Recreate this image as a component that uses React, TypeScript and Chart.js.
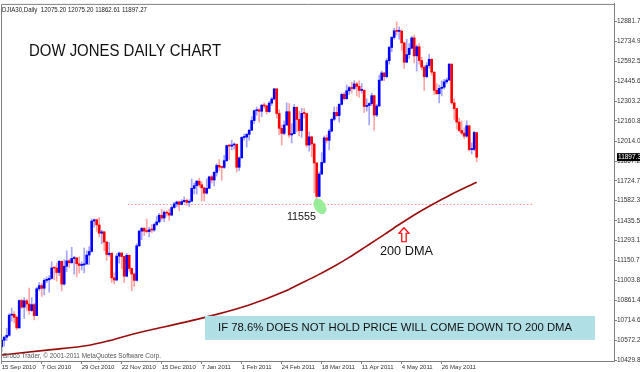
import React, { useEffect, useRef } from "react";
import { Chart, registerables } from "chart.js";

Chart.register(...registerables);

// ---- Daily OHLC (bar index 0 = 15 Sep 2010 ... 190 = 15 Jun 2011) ----
const opens = [
  10526, 10573, 10595, 10608, 10754, 10761, 10739, 10662, 10860, 10812,
  10858, 10835, 10788, 10830, 10751, 10945, 10968, 10949, 11006, 11010,
  11020, 11096, 11095, 11063, 11144, 10979, 11108, 11147, 11133, 11164,
  11169, 11126, 11114, 11118, 11125, 11189, 11215, 11435, 11444, 11407,
  11347, 11357, 11283, 11193, 11202, 11024, 11008, 11181, 11204, 11179,
  11036, 11187, 11092, 11052, 11006, 11256, 11362, 11382, 11362, 11359,
  11372, 11370, 11410, 11429, 11477, 11457, 11499, 11492, 11478, 11533,
  11559, 11573, 11555, 11576, 11585, 11570, 11578, 11671, 11691, 11723,
  11697, 11675, 11637, 11672, 11755, 11732, 11787, 11838, 11825, 11823,
  11872, 11981, 11977, 11985, 11990, 11824, 11892, 12040, 12042, 12062,
  12092, 12162, 12233, 12240, 12229, 12273, 12268, 12227, 12288, 12318,
  12391, 12213, 12106, 12069, 12130, 12226, 12058, 12067, 12258, 12170,
  12090, 12214, 12213, 11985, 12044, 11993, 11855, 11613, 11775, 11859,
  12037, 12019, 12086, 12171, 12221, 12198, 12279, 12351, 12320, 12377,
  12400, 12394, 12427, 12409, 12380, 12381, 12264, 12271, 12285, 12342,
  12202, 12267, 12454, 12506, 12480, 12595, 12691, 12763, 12811, 12807,
  12808, 12724, 12584, 12639, 12685, 12760, 12630, 12696, 12596, 12548,
  12480, 12560, 12605, 12512, 12381, 12356, 12395, 12403, 12442, 12455,
  12570, 12290, 12249, 12151, 12090, 12071, 12049, 12124, 11952, 11953,
  12075,
];
const highs = [
  10580, 10600, 10660, 10765, 10805, 10780, 10750, 10865, 10870, 10880,
  10870, 10950, 10880, 10840, 10955, 10990, 10985, 11020, 11030, 11040,
  11140, 11100, 11130, 11150, 11145, 11155, 11220, 11160, 11245, 11180,
  11170, 11175, 11140, 11240, 11220, 11250, 11450, 11450, 11450, 11460,
  11370, 11360, 11290, 11280, 11205, 11060, 11200, 11210, 11205, 11180,
  11200, 11190, 11095, 11060, 11270, 11370, 11390, 11390, 11450, 11390,
  11410, 11420, 11470, 11490, 11520, 11510, 11510, 11520, 11545, 11570,
  11580, 11580, 11590, 11610, 11595, 11590, 11740, 11710, 11730, 11745,
  11720, 11680, 11740, 11760, 11765, 11795, 11850, 11880, 11830, 11910,
  11985, 11990, 12020, 12000, 11995, 11900, 12045, 12065, 12070, 12100,
  12190, 12240, 12260, 12250, 12280, 12290, 12275, 12300, 12330, 12395,
  12392, 12240, 12130, 12160, 12290, 12285, 12140, 12280, 12260, 12230,
  12250, 12250, 12215, 12080, 12050, 11995, 11860, 11790, 11930, 12050,
  12060, 12100, 12180, 12260, 12260, 12285, 12360, 12365, 12420, 12410,
  12440, 12450, 12440, 12450, 12430, 12385, 12320, 12290, 12360, 12345,
  12280, 12490, 12520, 12510, 12610, 12700, 12770, 12830, 12876, 12840,
  12820, 12730, 12750, 12720, 12770, 12780, 12710, 12720, 12620, 12560,
  12580, 12640, 12610, 12515, 12430, 12420, 12450, 12460, 12470, 12575,
  12572, 12320, 12250, 12180, 12160, 12110, 12160, 12125, 12000, 12085,
  12075,
];
const lows = [
  10490, 10530, 10570, 10600, 10710, 10700, 10650, 10660, 10800, 10730,
  10790, 10760, 10780, 10720, 10750, 10930, 10890, 10900, 10990, 10920,
  11015, 11010, 11000, 11040, 10930, 10970, 11070, 11100, 11130, 11050,
  11030, 11060, 11080, 11060, 11120, 11120, 11210, 11390, 11360, 11320,
  11270, 11220, 11150, 11180, 10990, 10980, 11005, 11130, 11090, 10990,
  11030, 11070, 10930, 10960, 11000, 11250, 11300, 11330, 11350, 11320,
  11350, 11360, 11400, 11420, 11440, 11430, 11470, 11440, 11475, 11525,
  11540, 11510, 11550, 11565, 11550, 11540, 11575, 11630, 11630, 11680,
  11580, 11580, 11630, 11670, 11710, 11690, 11760, 11800, 11730, 11815,
  11865, 11880, 11950, 11955, 11790, 11800, 11890, 12020, 11970, 12020,
  12090, 12140, 12200, 12150, 12190, 12250, 12210, 12220, 12270, 12310,
  12180, 12060, 11985, 12060, 12125, 12040, 12000, 12065, 12080, 12050,
  12040, 12180, 11970, 11940, 11900, 11640, 11555, 11610, 11770, 11855,
  12000, 11950, 12080, 12160, 12190, 12150, 12275, 12310, 12315, 12350,
  12360, 12385, 12340, 12330, 12360, 12220, 12230, 12130, 12270, 12090,
  12190, 12265, 12450, 12450, 12470, 12570, 12660, 12750, 12780, 12750,
  12670, 12540, 12580, 12610, 12680, 12580, 12520, 12570, 12530, 12380,
  12470, 12540, 12490, 12350, 12350, 12290, 12340, 12390, 12430, 12450,
  12280, 12170, 12100, 12080, 12060, 12030, 12040, 11940, 11920, 11945,
  11863,
];
const closes = [
  10573, 10595, 10608, 10754, 10761, 10739, 10662, 10860, 10812, 10858,
  10835, 10788, 10830, 10751, 10945, 10968, 10949, 11006, 11010, 11020,
  11096, 11095, 11063, 11144, 10979, 11108, 11147, 11133, 11164, 11169,
  11126, 11114, 11118, 11125, 11189, 11215, 11435, 11444, 11407, 11347,
  11357, 11283, 11193, 11202, 11024, 11008, 11181, 11204, 11179, 11036,
  11187, 11092, 11052, 11006, 11256, 11362, 11382, 11362, 11359, 11372,
  11370, 11410, 11429, 11477, 11457, 11499, 11492, 11478, 11533, 11559,
  11573, 11555, 11576, 11585, 11570, 11578, 11671, 11691, 11723, 11697,
  11675, 11637, 11672, 11755, 11732, 11787, 11838, 11825, 11823, 11872,
  11981, 11977, 11985, 11990, 11824, 11892, 12040, 12042, 12062, 12092,
  12162, 12233, 12240, 12229, 12273, 12268, 12227, 12288, 12318, 12391,
  12213, 12106, 12069, 12130, 12226, 12058, 12067, 12258, 12170, 12090,
  12214, 12213, 11985, 12044, 11993, 11855, 11613, 11775, 11859, 12037,
  12019, 12086, 12171, 12221, 12198, 12279, 12351, 12320, 12377, 12400,
  12394, 12427, 12409, 12380, 12381, 12264, 12271, 12285, 12342, 12202,
  12267, 12454, 12506, 12480, 12595, 12691, 12763, 12811, 12807, 12808,
  12724, 12584, 12639, 12685, 12760, 12630, 12696, 12596, 12548, 12480,
  12560, 12605, 12512, 12381, 12356, 12395, 12403, 12442, 12455, 12570,
  12290, 12249, 12151, 12090, 12071, 12049, 12124, 11952, 11953, 12076,
  11897,
];

// ---- 200-day moving average (read at bar indexes) ----
const maIndex = [0, 19, 35, 43, 52, 59, 73, 86, 99, 113, 119, 126, 133, 139, 146, 153, 159, 166, 173, 179, 190];
const maValues = [10466, 10503, 10537, 10570, 10615, 10645, 10702, 10760, 10828, 10925, 10978, 11040, 11108, 11172, 11254, 11337, 11410, 11490, 11562, 11620, 11716];

// ---- support line ----
const supportLevel = 11555;
const supportStart = 50.5;
const supportEnd = 212.5;

// ---- axes ----
const xTickIndex = [0, 16, 32, 48, 64, 80, 96, 112, 128, 144, 160, 176];
const xTickLabels = [
  "15 Sep 2010", "7 Oct 2010", "29 Oct 2010", "22 Nov 2010", "15 Dec 2010", "7 Jan 2011",
  "1 Feb 2011", "24 Feb 2011", "18 Mar 2011", "11 Apr 2011", "4 May 2011", "26 May 2011",
];
const yTickValues = [
  12881.7, 12734.9, 12592.5, 12445.6, 12303.2, 12160.8, 12014.0, 11867.2, 11724.7,
  11582.3, 11435.5, 11293.1, 11150.7, 11003.8, 10861.4, 10714.6, 10572.2, 10429.8,
];
const lastPrice = 11897.27;
const headerText = "DJIA30,Daily  12075.20 12075.20 11862.61 11897.27";

const FONT = '"Liberation Sans", Arial, sans-serif';

function drawText(
  ctx: CanvasRenderingContext2D,
  s: string,
  x: number,
  y: number,
  size: number,
  width: number | null,
  color: string
) {
  ctx.save();
  ctx.font = `${size}px ${FONT}`;
  const w = ctx.measureText(s).width;
  const sx = width ? width / w : 1;
  ctx.translate(x, y);
  ctx.scale(sx, 1);
  ctx.fillStyle = color;
  ctx.textAlign = "left";
  ctx.textBaseline = "middle";
  ctx.fillText(s, 0, 0);
  ctx.restore();
}

const annotationPlugin = {
  id: "annotations",
  afterDatasetsDraw(chart: any) {
    const { ctx, chartArea, scales } = chart;
    const xs = scales.x;
    const ys = scales.y;
    ctx.save();
    // green ellipse at the 11555 low
    ctx.beginPath();
    ctx.ellipse(xs.getPixelForValue(127.3), ys.getPixelForValue(11542), 5.5, 8.5, -0.55, 0, Math.PI * 2);
    ctx.fillStyle = "rgba(144,238,144,0.92)";
    ctx.fill();

    // red outline up-arrow under 200 DMA line
    const ax = xs.getPixelForValue(160.9);
    const ay = ys.getPixelForValue(11336);
    ctx.beginPath();
    ctx.moveTo(ax, ay - 7);
    ctx.lineTo(ax + 5, ay - 1.5);
    ctx.lineTo(ax + 2.2, ay - 1.5);
    ctx.lineTo(ax + 2.2, ay + 7);
    ctx.lineTo(ax - 2.2, ay + 7);
    ctx.lineTo(ax - 2.2, ay - 1.5);
    ctx.lineTo(ax - 5, ay - 1.5);
    ctx.closePath();
    ctx.fillStyle = "#ffffff";
    ctx.fill();
    ctx.strokeStyle = "#ff0000";
    ctx.lineWidth = 1.2;
    ctx.stroke();
    ctx.restore();

    drawText(ctx, "11555", xs.getPixelForValue(114.1), ys.getPixelForValue(11467), 11, 29, "#111");
    drawText(ctx, "200 DMA", xs.getPixelForValue(151.3), ys.getPixelForValue(11212), 13, 53, "#111");

    // title and header
    const L = chartArea.left;
    const T = chartArea.top;
    drawText(ctx, headerText, L + 1, T + 6.3, 7, 145, "#222");
    drawText(ctx, "DOW JONES DAILY CHART", L + 28, T + 47.7, 17, 192, "#111");

    // note box
    ctx.save();
    ctx.fillStyle = "#b0e0e6";
    ctx.fillRect(L + 204, T + 312, 390, 24);
    ctx.restore();
    drawText(ctx, "IF 78.6% DOES NOT HOLD PRICE WILL COME DOWN TO 200 DMA", L + 217, T + 324.3, 11.3, 354, "#111");

    // copyright
    drawText(ctx, "Broco Trader, \u00a9 2001-2011 MetaQuotes Software Corp.", L + 2, chartArea.bottom - 5.3, 7, 158, "#555");
  },
  afterDraw(chart: any) {
    const { ctx, chartArea, scales } = chart;
    ctx.save();
    // top & left frame
    ctx.strokeStyle = "#808080";
    ctx.lineWidth = 1;
    ctx.beginPath();
    ctx.moveTo(chartArea.left + 0.5, chartArea.bottom);
    ctx.lineTo(chartArea.left + 0.5, chartArea.top + 0.5);
    ctx.lineTo(chartArea.right, chartArea.top + 0.5);
    ctx.stroke();
    // current price tag
    const y = scales.y.getPixelForValue(lastPrice);
    ctx.fillStyle = "#000";
    ctx.fillRect(chartArea.right + 3, y - 4, 26, 8);
    ctx.restore();
    drawText(ctx, lastPrice.toFixed(1), chartArea.right + 4, y, 6.5, null, "#fff");
  },
};

export default function App() {
  const ref = useRef<HTMLCanvasElement>(null);
  useEffect(() => {
    document.body.style.margin = "0";
    const canvas = ref.current;
    if (!canvas) return;
    const idx = closes.map((_, i) => i);
    const up = idx.map((i) => closes[i] >= opens[i]);
    const chart = new Chart(canvas, {
      type: "bar",
      data: {
        datasets: [
          {
            type: "bar",
            label: "body",
            data: idx.map((i) => ({ x: i, y: [opens[i], closes[i]] })) as any,
            backgroundColor: up.map((u) => (u ? "#0000ff" : "#ff0000")),
            barThickness: 2,
            grouped: false,
            minBarLength: 1,
            borderWidth: 0,
            order: 1,
          } as any,
          {
            type: "bar",
            label: "wick",
            data: idx.map((i) => ({ x: i, y: [lows[i], highs[i]] })) as any,
            backgroundColor: up.map((u) => (u ? "#a4a4ff" : "#ffa4a4")),
            barThickness: 1,
            grouped: false,
            borderWidth: 0,
            order: 2,
          } as any,
          {
            type: "line",
            label: "200 DMA",
            data: maIndex.map((x, k) => ({ x, y: maValues[k] })),
            borderColor: "#9a0d0d",
            borderWidth: 1.6,
            pointRadius: 0,
            tension: 0.4,
            cubicInterpolationMode: "monotone",
            order: 0,
          } as any,
          {
            type: "line",
            label: "support",
            data: [
              { x: supportStart, y: supportLevel },
              { x: supportEnd, y: supportLevel },
            ],
            borderColor: "#ff8c8c",
            borderWidth: 1,
            borderDash: [1.5, 2],
            pointRadius: 0,
            order: 3,
          } as any,
        ],
      },
      options: {
        animation: false,
        responsive: false,
        events: [],
        layout: { padding: { left: 1, top: 1, right: 0, bottom: 0 } },
        plugins: { legend: { display: false }, tooltip: { enabled: false } },
        scales: {
          x: {
            type: "linear",
            min: -0.28,
            max: 244.92,
            offset: false,
            position: "bottom",
            afterFit: (s: any) => {
              s.height = 11;
            },
            afterBuildTicks: (s: any) => {
              s.ticks = xTickIndex.map((v) => ({ value: v }));
            },
            grid: { display: true, drawOnChartArea: false, drawTicks: true, tickLength: 3, color: "#808080", offset: false },
            border: { display: true, color: "#808080", width: 1 },
            ticks: {
              autoSkip: false,
              maxRotation: 0,
              minRotation: 0,
              align: "start",
              padding: 0,
              color: "#333",
              font: { family: FONT, size: 6 },
              callback: (_v: any, i: number) => xTickLabels[i] ?? "",
            },
          },
          y: {
            type: "linear",
            position: "right",
            min: 10422.6,
            max: 13005.8,
            afterFit: (s: any) => {
              s.width = 26;
            },
            afterBuildTicks: (s: any) => {
              s.ticks = yTickValues.map((v) => ({ value: v }));
            },
            grid: { display: true, drawOnChartArea: false, drawTicks: true, tickLength: 3, color: "#808080" },
            border: { display: true, color: "#808080", width: 1 },
            ticks: {
              autoSkip: false,
              padding: 0,
              color: "#333",
              font: { family: FONT, size: 6.5 },
              callback: (v: any) => Number(v).toFixed(1),
            },
          },
        },
      } as any,
      plugins: [annotationPlugin],
    });
    return () => chart.destroy();
  }, []);
  return (
    <div style={{ position: "fixed", left: 0, top: 0, width: 640, height: 372, background: "#fff" }}>
      <canvas ref={ref} width={640} height={372} style={{ display: "block" }} />
    </div>
  );
}
